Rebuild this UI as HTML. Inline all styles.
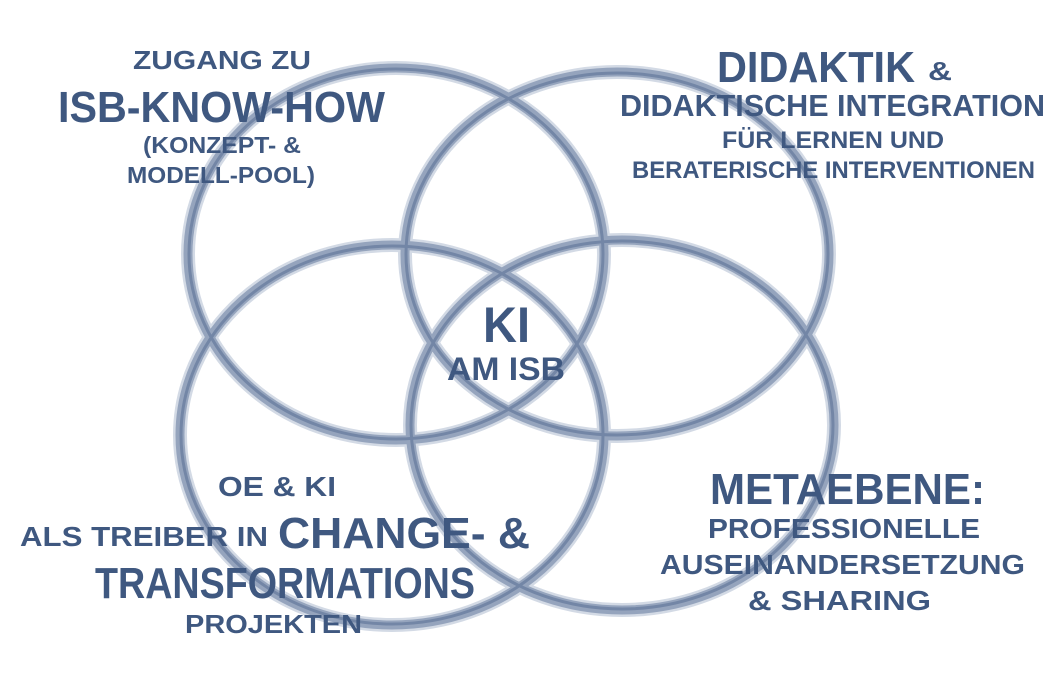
<!DOCTYPE html>
<html><head><meta charset="utf-8"><style>
html,body{margin:0;padding:0;background:#fff;}
svg{display:block}
text{font-family:"Liberation Sans Narrow","Liberation Sans",sans-serif;font-weight:bold;fill:#3f5880;}
</style></head><body>
<svg width="1064" height="683" viewBox="0 0 1064 683" xmlns="http://www.w3.org/2000/svg">
<g fill="none" stroke-linecap="round">
 <g stroke="#d3dae5" stroke-width="14">
  <ellipse cx="396" cy="254" rx="208" ry="186"/>
  <ellipse cx="617" cy="254" rx="212" ry="182"/>
  <ellipse cx="392" cy="435" rx="212" ry="190"/>
  <ellipse cx="622" cy="425" rx="212" ry="185"/>
 </g>
 <g stroke="#95a4bd" stroke-width="9">
  <ellipse cx="396" cy="254" rx="208" ry="186"/>
  <ellipse cx="617" cy="254" rx="212" ry="182"/>
  <ellipse cx="392" cy="435" rx="212" ry="190"/>
  <ellipse cx="622" cy="425" rx="212" ry="185"/>
 </g>
 <g stroke="#7386a6" stroke-width="3">
  <ellipse cx="396" cy="254" rx="207" ry="185"/>
  <ellipse cx="617" cy="254" rx="211" ry="181"/>
  <ellipse cx="392" cy="435" rx="211" ry="189"/>
  <ellipse cx="622" cy="425" rx="211" ry="184"/>
 </g>
</g>
<g text-anchor="start">
 <text x="133" y="69" font-size="26" textLength="178" lengthAdjust="spacingAndGlyphs">ZUGANG ZU</text>
 <text x="58" y="122" font-size="44" textLength="327" lengthAdjust="spacingAndGlyphs">ISB-KNOW-HOW</text>
 <text x="143" y="153" font-size="23" textLength="158" lengthAdjust="spacingAndGlyphs">(KONZEPT- &amp;</text>
 <text x="127" y="183" font-size="23" textLength="188" lengthAdjust="spacingAndGlyphs">MODELL-POOL)</text>

 <text x="717" y="82" font-size="44" textLength="198" lengthAdjust="spacingAndGlyphs">DIDAKTIK</text>
 <text x="928" y="80" font-size="26" textLength="24" lengthAdjust="spacingAndGlyphs">&amp;</text>
 <text x="620" y="116" font-size="31" textLength="425" lengthAdjust="spacingAndGlyphs">DIDAKTISCHE INTEGRATION</text>
 <text x="722" y="148" font-size="24" textLength="222" lengthAdjust="spacingAndGlyphs">FÜR LERNEN UND</text>
 <text x="632" y="178" font-size="24" textLength="403" lengthAdjust="spacingAndGlyphs">BERATERISCHE INTERVENTIONEN</text>

 <text x="483" y="342" font-size="50" textLength="47" lengthAdjust="spacingAndGlyphs">KI</text>
 <text x="447" y="380" font-size="32" textLength="118" lengthAdjust="spacingAndGlyphs">AM ISB</text>

 <text x="218" y="496" font-size="28" textLength="118" lengthAdjust="spacingAndGlyphs">OE &amp; KI</text>
 <text x="20" y="546" font-size="28" textLength="248" lengthAdjust="spacingAndGlyphs">ALS TREIBER IN</text>
 <text x="278" y="548" font-size="44" textLength="252" lengthAdjust="spacingAndGlyphs">CHANGE- &amp;</text>
 <text x="95" y="598" font-size="44" textLength="380" lengthAdjust="spacingAndGlyphs">TRANSFORMATIONS</text>
 <text x="185" y="633" font-size="26" textLength="177" lengthAdjust="spacingAndGlyphs">PROJEKTEN</text>

 <text x="710" y="504" font-size="44" textLength="275" lengthAdjust="spacingAndGlyphs">METAEBENE:</text>
 <text x="708" y="538" font-size="28" textLength="272" lengthAdjust="spacingAndGlyphs">PROFESSIONELLE</text>
 <text x="660" y="574" font-size="28" textLength="365" lengthAdjust="spacingAndGlyphs">AUSEINANDERSETZUNG</text>
 <text x="748" y="610" font-size="28" textLength="183" lengthAdjust="spacingAndGlyphs">&amp; SHARING</text>
</g>
</svg>
</body></html>
